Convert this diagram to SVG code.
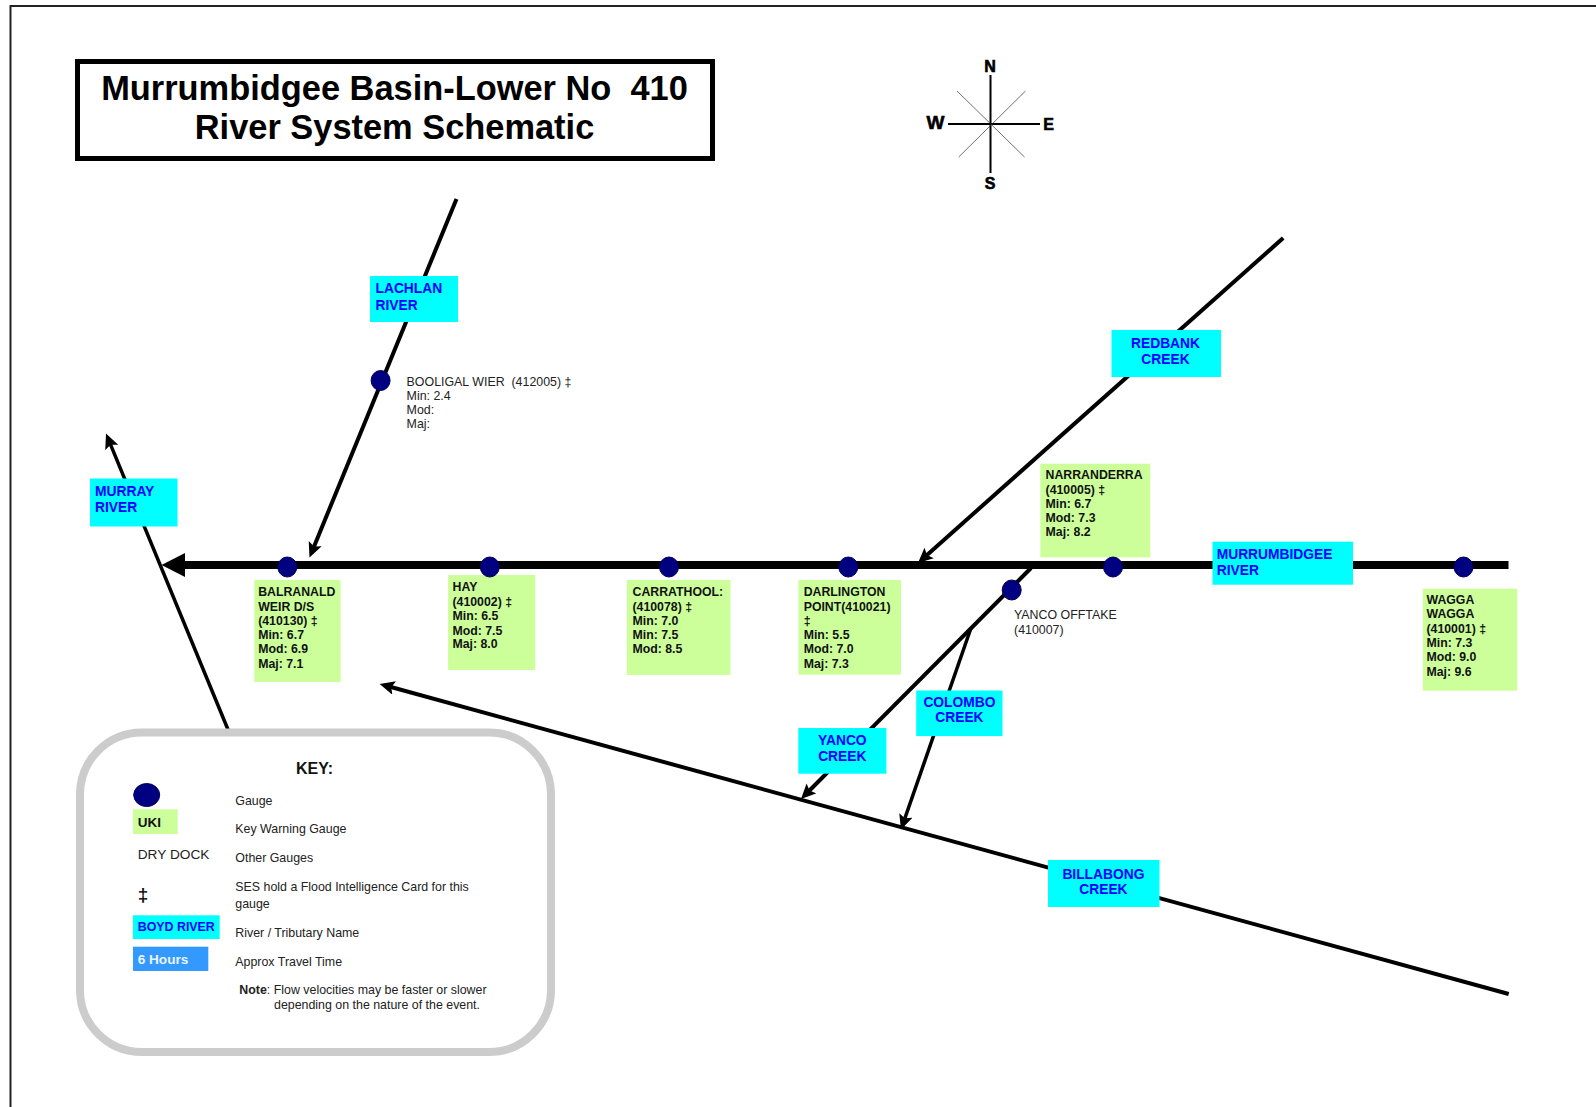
<svg xmlns="http://www.w3.org/2000/svg" width="1596" height="1107" viewBox="0 0 1596 1107">
<style>
text{font-family:"Liberation Sans",Arial,sans-serif;white-space:pre}
.title{font-size:34.4px;font-weight:bold;fill:#000;text-anchor:middle}
.river{font-size:13.8px;font-weight:bold;fill:#0000ff}
.mid{text-anchor:middle}
.gbox{fill:#ccff99}
.cbox{fill:#00ffff}
.gt{font-size:12.3px;font-weight:bold;fill:#111}
.ot{font-size:12.4px;fill:#222}
.g{fill:#000080;stroke:#00005a;stroke-width:1}
.ln{fill:none;stroke:#000;stroke-linecap:butt}
.cp{font-size:16px;font-weight:bold;fill:#000;stroke:#000;stroke-width:0.6;text-anchor:middle}
</style>
<defs>
<marker id="ah" markerUnits="userSpaceOnUse" markerWidth="20" markerHeight="16" refX="10" refY="7" orient="auto">
<path d="M0,0 L15,7 L0,14 L3,7 Z" fill="#000"/>
</marker>
</defs>
<rect id="frame" x="10.5" y="6" width="1600" height="1120" fill="#fff" stroke="#222" stroke-width="2"/>
<g id="title">
<rect x="77.5" y="61.5" width="635" height="97" fill="#fff" stroke="#000" stroke-width="5"/>
<text class="title" x="394.5" y="99.500">Murrumbidgee Basin-Lower No  410</text>
<text class="title" x="394.5" y="139">River System Schematic</text>
</g>
<g id="compass">
<path d="M990.500,75V173M948,124H1040" stroke="#000" stroke-width="2" fill="none"/>
<path d="M957,91L1024.5,157M1025.5,91L958.7,157" stroke="#333" stroke-width="0.7" fill="none"/>
<text class="cp" x="990" y="72">N</text>
<text class="cp" x="935.500" y="129" style="font-size:19px">W</text>
<text class="cp" x="1048.500" y="130">E</text>
<text class="cp" x="990" y="189">S</text>
</g>
<g id="connectors">
<path class="ln" stroke-width="8" d="M180,565H1508.500"/>
<polygon points="161.500,565 185,553 185,577" fill="#000"/>
<path class="ln" stroke-width="4" d="M456.500,199L311.400,552.900" marker-end="url(#ah)"/>
<path class="ln" stroke-width="4" d="M1283.200,238L921.700,559.700" marker-end="url(#ah)"/>
<path class="ln" stroke-width="3.500" d="M229,732L107.900,438.200" marker-end="url(#ah)"/>
<path class="ln" stroke-width="4" d="M1031,568L804.500,795.500" marker-end="url(#ah)"/>
<path class="ln" stroke-width="3.500" d="M971,628L902.600,824.900" marker-end="url(#ah)"/>
<path class="ln" stroke-width="4" d="M1508.700,994L384.500,685.300" marker-end="url(#ah)"/>
</g>
<g id="lachlan-river"><rect class="cbox" x="370" y="276" width="88" height="46"/><text class="river" x="375.500" y="292.500">LACHLAN</text><text class="river" x="375.500" y="309.500">RIVER</text></g>
<g id="redbank-creek"><rect class="cbox" x="1111.500" y="330" width="109.500" height="47"/><text class="river mid" x="1165.500" y="348">REDBANK</text><text class="river mid" x="1165.500" y="364">CREEK</text></g>
<g id="murray-river"><rect class="cbox" x="90" y="478.500" width="87.500" height="48"/><text class="river" x="95" y="496">MURRAY</text><text class="river" x="95" y="512">RIVER</text></g>
<g id="murrumbidgee-river"><rect class="cbox" x="1212.500" y="541.700" width="140.500" height="43"/><text class="river" x="1216.700" y="559">MURRUMBIDGEE</text><text class="river" x="1216.700" y="575">RIVER</text></g>
<g id="colombo-creek"><rect class="cbox" x="916.200" y="690.500" width="86.300" height="45.600"/><text class="river mid" x="959.400" y="707">COLOMBO</text><text class="river mid" x="959.400" y="722">CREEK</text></g>
<g id="yanco-creek"><rect class="cbox" x="798.300" y="728" width="88.100" height="45.700"/><text class="river mid" x="842.300" y="745.300">YANCO</text><text class="river mid" x="842.300" y="761.300">CREEK</text></g>
<g id="billabong-creek"><rect class="cbox" x="1048" y="860" width="111.500" height="47"/><text class="river mid" x="1103.400" y="878.700">BILLABONG</text><text class="river mid" x="1103.400" y="893.700">CREEK</text></g>
<g id="booligal">
<ellipse class="g" cx="380.600" cy="380.500" rx="9.500" ry="10"/>
<text class="ot" x="406.600" y="386">BOOLIGAL WIER  (412005) ‡</text>
<text class="ot" x="406.600" y="399.500">Min: 2.4</text>
<text class="ot" x="406.600" y="414">Mod:</text>
<text class="ot" x="406.600" y="428">Maj:</text>
</g>
<g id="balranald">
<rect class="gbox" x="254.300" y="580" width="86.300" height="102"/>
<ellipse class="g" cx="287.300" cy="567" rx="9.500" ry="10"/>
<text class="gt" x="258.200" y="596">BALRANALD</text>
<text class="gt" x="258.200" y="610.500">WEIR D/S</text>
<text class="gt" x="258.200" y="625">(410130) ‡</text>
<text class="gt" x="258.200" y="639">Min: 6.7</text>
<text class="gt" x="258.200" y="653">Mod: 6.9</text>
<text class="gt" x="258.200" y="668">Maj: 7.1</text>
</g>
<g id="hay">
<rect class="gbox" x="448.100" y="575" width="87.200" height="95"/>
<ellipse class="g" cx="489.800" cy="567" rx="9.500" ry="10"/>
<text class="gt" x="452.500" y="591">HAY</text>
<text class="gt" x="452.500" y="606">(410002) ‡</text>
<text class="gt" x="452.500" y="620">Min: 6.5</text>
<text class="gt" x="452.500" y="634.500">Mod: 7.5</text>
<text class="gt" x="452.500" y="648">Maj: 8.0</text>
</g>
<g id="carrathool">
<rect class="gbox" x="626.800" y="580" width="103.700" height="95"/>
<ellipse class="g" cx="669" cy="567" rx="9.500" ry="10"/>
<text class="gt" x="632.500" y="596">CARRATHOOL:</text>
<text class="gt" x="632.500" y="610.700">(410078) ‡</text>
<text class="gt" x="632.500" y="625">Min: 7.0</text>
<text class="gt" x="632.500" y="639">Min: 7.5</text>
<text class="gt" x="632.500" y="653">Mod: 8.5</text>
</g>
<g id="darlington-point">
<rect class="gbox" x="798.400" y="580" width="102.600" height="94.700"/>
<ellipse class="g" cx="848.300" cy="567" rx="9.500" ry="10"/>
<text class="gt" x="803.700" y="596">DARLINGTON</text>
<text class="gt" x="803.700" y="610.700">POINT(410021)</text>
<text class="gt" x="803.700" y="625">‡</text>
<text class="gt" x="803.700" y="639">Min: 5.5</text>
<text class="gt" x="803.700" y="653">Mod: 7.0</text>
<text class="gt" x="803.700" y="668">Maj: 7.3</text>
</g>
<g id="narranderra">
<rect class="gbox" x="1040.300" y="463.700" width="110" height="93.600"/>
<ellipse class="g" cx="1113" cy="567" rx="9.500" ry="10"/>
<text class="gt" x="1045.600" y="479">NARRANDERRA</text>
<text class="gt" x="1045.600" y="494">(410005) ‡</text>
<text class="gt" x="1045.600" y="508">Min: 6.7</text>
<text class="gt" x="1045.600" y="522">Mod: 7.3</text>
<text class="gt" x="1045.600" y="535.500">Maj: 8.2</text>
</g>
<g id="wagga-wagga">
<rect class="gbox" x="1422.800" y="588.700" width="94.500" height="102"/>
<ellipse class="g" cx="1463.500" cy="567" rx="9.500" ry="10"/>
<text class="gt" x="1426.500" y="604">WAGGA</text>
<text class="gt" x="1426.500" y="618">WAGGA</text>
<text class="gt" x="1426.500" y="632.500">(410001) ‡</text>
<text class="gt" x="1426.500" y="647">Min: 7.3</text>
<text class="gt" x="1426.500" y="661">Mod: 9.0</text>
<text class="gt" x="1426.500" y="675.500">Maj: 9.6</text>
</g>
<g id="yanco-offtake">
<ellipse class="g" cx="1011.700" cy="590" rx="9.500" ry="10"/>
<text class="ot" x="1014" y="619">YANCO OFFTAKE</text>
<text class="ot" x="1014" y="634">(410007)</text>
</g>
<g id="key">
<rect x="80" y="732.500" width="471" height="319.500" rx="62" ry="62" fill="#fff" stroke="#ccc" stroke-width="8"/>
<text x="314.500" y="773.500" text-anchor="middle" style="font-size:16px;font-weight:bold" fill="#111">KEY:</text>
<ellipse class="g" cx="146.700" cy="795" rx="13" ry="11.500"/>
<rect class="gbox" x="133" y="809.300" width="44.700" height="24.700"/>
<text x="137.700" y="826.700" style="font-size:13.500px;font-weight:bold" fill="#111">UKI</text>
<text x="137.700" y="859" style="font-size:13.700px" fill="#222">DRY DOCK</text>
<text x="137.700" y="901" style="font-size:19px;font-weight:bold" fill="#111">‡</text>
<rect class="cbox" x="133" y="915.300" width="86.700" height="23.700"/>
<text x="137.700" y="930.700" style="font-size:12.400px;font-weight:bold" fill="#0000ff">BOYD RIVER</text>
<rect x="133" y="946.700" width="75.300" height="24.300" fill="#3399ff"/>
<text x="137.700" y="964" style="font-size:13.600px;font-weight:bold" fill="#eaf4ff">6 Hours</text>
<text class="ot" x="235.300" y="804.500">Gauge</text>
<text class="ot" x="235.300" y="833">Key Warning Gauge</text>
<text class="ot" x="235.300" y="862">Other Gauges</text>
<text class="ot" x="235.300" y="891">SES hold a Flood Intelligence Card for this</text>
<text class="ot" x="235.300" y="908">gauge</text>
<text class="ot" x="235.300" y="937">River / Tributary Name</text>
<text class="ot" x="235.300" y="966">Approx Travel Time</text>
<text class="ot" x="239.300" y="994"><tspan font-weight="bold">Note</tspan>: Flow velocities may be faster or slower</text>
<text class="ot" x="274" y="1009">depending on the nature of the event.</text>
</g>
</svg>
